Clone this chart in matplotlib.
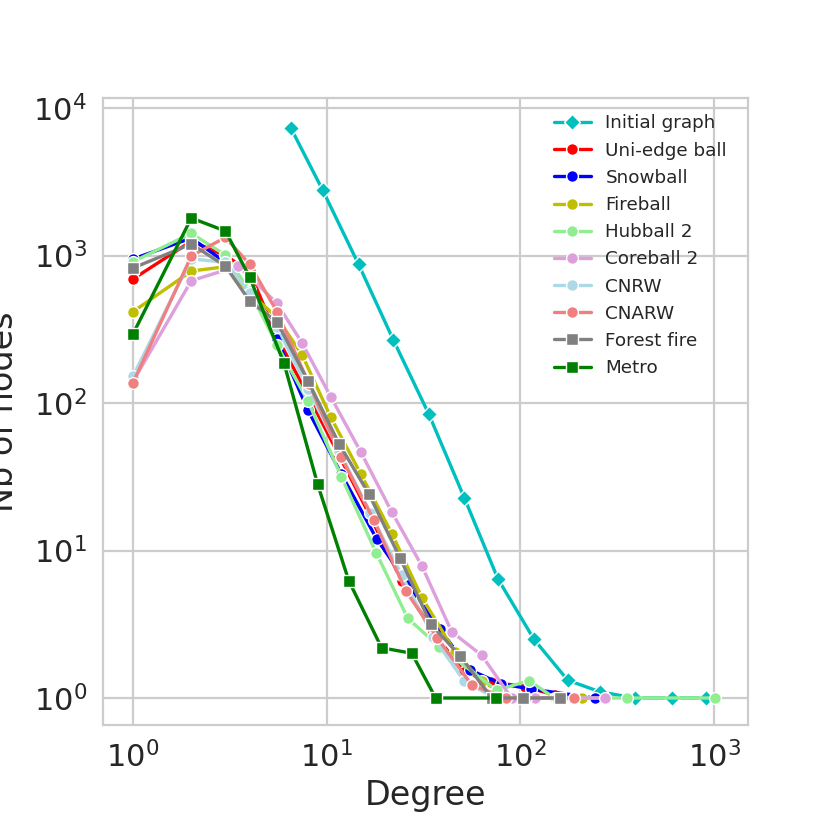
"""Degree distribution of the initial graph and of the sampled subgraphs."""

import matplotlib
matplotlib.use("Agg")
import matplotlib.pyplot as plt
import seaborn as sns

initial_x = [6.52, 9.54, 14.6, 22.1, 33.7, 51.3, 76.6, 117.5, 175.5, 258, 391, 604, 908]
initial_y = [7350, 2770, 872, 267, 83.8, 22.8, 6.41, 2.50, 1.32, 1.10, 1, 1, 1]

uniedge_x = [1, 2, 3, 4, 5.54, 8.0, 11.6, 16.8, 24.4, 35.4, 51.3, 70.3, 105.7, 150]
uniedge_y = [693, 1250, 1000, 780, 280, 113, 44, 17, 6.2, 2.8, 1.5, 1.29, 1.19, 1.05]

snowball_x = [1, 2, 3, 4, 5.54, 8.0, 11.9, 18.1, 26.4, 38.4, 55, 79, 113.5, 243]
snowball_y = [947, 1314, 900, 583, 270, 89.7, 33, 12.0, 5.87, 2.92, 1.55, 1.25, 1.15, 1]

fireball_x = [1, 2, 3, 4, 5.54, 7.48, 10.5, 15.0, 21.7, 31.0, 45.9, 63.1, 91.6, 207]
fireball_y = [416, 785, 840, 560, 380, 211, 80, 33, 13, 4.8, 2.06, 1.3, 1, 1]

hubball_x = [1, 2, 3, 4, 5.54, 8.0, 11.9, 18.0, 26.2, 38.1, 75.4, 111, 150, 354, 1011]
hubball_y = [908, 1414, 1007, 577, 247, 103, 31.7, 9.67, 3.47, 2.23, 1.13, 1.31, 1, 1, 1]

coreball_x = [1, 2, 3.5, 5.54, 7.48, 10.5, 15.0, 21.7, 31.0, 44.2, 63.1, 90, 119, 273]
coreball_y = [140, 675, 849, 474, 254, 110, 46.5, 18.2, 7.85, 2.81, 1.95, 1, 1, 1]

cnrw_x = [1, 2, 3, 4, 5.54, 8.0, 11.6, 16.8, 24.4, 35.4, 51.3, 74, 107, 155]
cnrw_y = [152, 950, 900, 560, 330, 125, 47, 18, 6.8, 2.6, 1.3, 1, 1, 1]

cnarw_x = [1, 2, 3, 4, 5.54, 8.1, 11.9, 17.5, 25.6, 37.2, 56.1, 84, 188]
cnarw_y = [137, 993, 1328, 872, 416, 135, 42.8, 16.1, 5.34, 2.56, 1.225, 1, 1]

forest_x = [1, 2, 3, 4, 5.54, 8.01, 11.6, 16.5, 23.9, 34.5, 48.8, 71.3, 103, 160]
forest_y = [823, 1197, 849, 492, 354, 141, 52.7, 24.2, 8.9, 3.17, 1.93, 1, 1, 1]

metro_x = [1, 2, 3, 4, 6.02, 8.98, 13.0, 19.2, 27.5, 36.5, 74.5]
metro_y = [294, 1796, 1466, 715, 186, 28.1, 6.24, 2.19, 2.01, 1, 1]

series = [
    ("Initial graph", initial_x, initial_y, "c", "D"),
    ("Uni-edge ball", uniedge_x, uniedge_y, "red", "o"),
    ("Snowball", snowball_x, snowball_y, "blue", "o"),
    ("Fireball", fireball_x, fireball_y, "y", "o"),
    ("Hubball 2", hubball_x, hubball_y, "lightgreen", "o"),
    ("Coreball 2", coreball_x, coreball_y, "plum", "o"),
    ("CNRW", cnrw_x, cnrw_y, "lightblue", "o"),
    ("CNARW", cnarw_x, cnarw_y, "lightcoral", "o"),
    ("Forest fire", forest_x, forest_y, "gray", "s"),
    ("Metro", metro_x, metro_y, "green", "s"),
]

sns.set_style("whitegrid")

fig = plt.figure(figsize=(8.3, 8.3), dpi=100)
ax = fig.add_axes([103 / 830, 105 / 830, 645 / 830, 627 / 830])

for name, xs, ys, color, marker in series:
    ax.plot(
        xs,
        ys,
        color=color,
        marker=marker,
        markersize=8.5,
        markeredgecolor="white",
        markeredgewidth=1.0,
        linewidth=2.4,
        label=name,
    )

ax.set_xscale("log")
ax.set_yscale("log")
ax.set_xlim(0.70, 1496)
ax.set_ylim(0.656, 11700)
ax.grid(True, linewidth=1.6)
for spine in ax.spines.values():
    spine.set_linewidth(1.6)
ax.tick_params(labelsize=22, pad=8)
ax.set_xlabel("Degree", fontsize=24)
ax.set_ylabel("Nb of nodes", fontsize=24, labelpad=10)
ax.legend(loc="upper right", bbox_to_anchor=(0.993, 1.0), fontsize=13.2,
          frameon=False)

fig.savefig("out.png", dpi=100)
plt.close(fig)
